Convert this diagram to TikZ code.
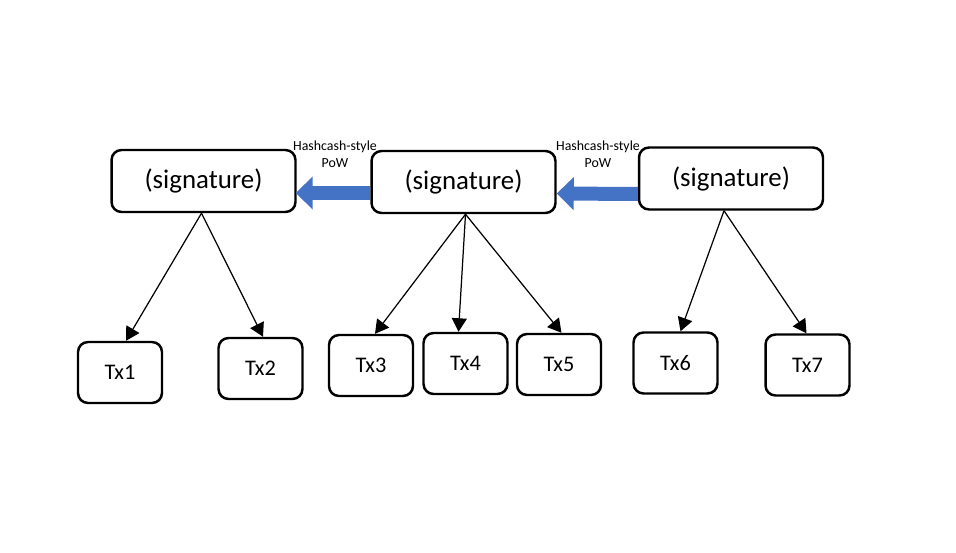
\documentclass[tikz,border=0pt]{standalone}
\usepackage{fontspec}
\setmainfont{Carlito}
\usepackage{xcolor}
\usetikzlibrary{arrows.meta,positioning,calc}
\definecolor{powblue}{HTML}{4472C4}

\begin{document}
\begin{tikzpicture}[
    x=0.02cm, y=-0.02cm,
    sig/.style={draw, line width=1.4pt, rounded corners=0.2cm, minimum width=3.68cm, minimum height=1.24cm, inner sep=0pt, font=\fontsize{15.3}{18}\selectfont},
    tx/.style={draw, line width=1.4pt, rounded corners=0.2cm, minimum width=1.68cm, minimum height=1.22cm, inner sep=0pt, font=\fontsize{12.7}{15}\selectfont},
    lbl/.style={align=center, inner sep=0pt, font=\fontsize{7.9}{9.6}\selectfont},
    arr/.style={-{Triangle[length=0.27cm, width=0.3cm]}, line width=0.7pt},
    powarr/.style={-{Triangle[length=0.34cm, width=0.64cm]}, line width=0.28cm, powblue},
]
\useasboundingbox (0,0) rectangle (956,553);
\node[sig] (sig1) at (203.5,181) {(signature)};
\node[sig] (sig2) at (463.5,182) {(signature)};
\node[sig] (sig3) at (731,178.5) {(signature)};
\node[tx] (tx1) at (120,372.5) {Tx1};
\node[tx] (tx2) at (260.5,368.5) {Tx2};
\node[tx] (tx3) at (371,365.5) {Tx3};
\node[tx] (tx4) at (465.5,363.5) {Tx4};
\node[tx] (tx5) at (559,364.5) {Tx5};
\node[tx] (tx6) at (675.5,363) {Tx6};
\node[tx] (tx7) at (807.5,365) {Tx7};
\node[lbl] (pow1) at (335,154) {Hashcash-style\\PoW};
\node[lbl] (pow2) at (598,154) {Hashcash-style\\PoW};
% blue PoW arrows between blocks
\draw[powarr] ($(sig2.west)+(0,11)$) -- ($(sig1.east)+(-1,12)$);
\draw[powarr] ($(sig3.west)+(0,15.5)$) -- ($(sig2.east)+(0,11.5)$);
% transactions
\draw[arr] ($(sig1.south)+(-2,0)$) -- ($(tx1.north)+(6,0)$);
\draw[arr] ($(sig1.south)+(-2,0)$) -- ($(tx2.north)+(2.5,0)$);
\draw[arr] ($(sig2.south)+(2,0)$) -- ($(tx3.north)+(4,0)$);
\draw[arr] ($(sig2.south)+(2,0)$) -- ($(tx4.north)+(-7,0)$);
\draw[arr] ($(sig2.south)+(2,0)$) -- ($(tx5.north)+(2.5,0)$);
\draw[arr] ($(sig3.south)+(-7,0)$) -- ($(tx6.north)+(5,0)$);
\draw[arr] ($(sig3.south)+(-7,0)$) -- ($(tx7.north)+(-1,0)$);
\end{tikzpicture}
\end{document}
